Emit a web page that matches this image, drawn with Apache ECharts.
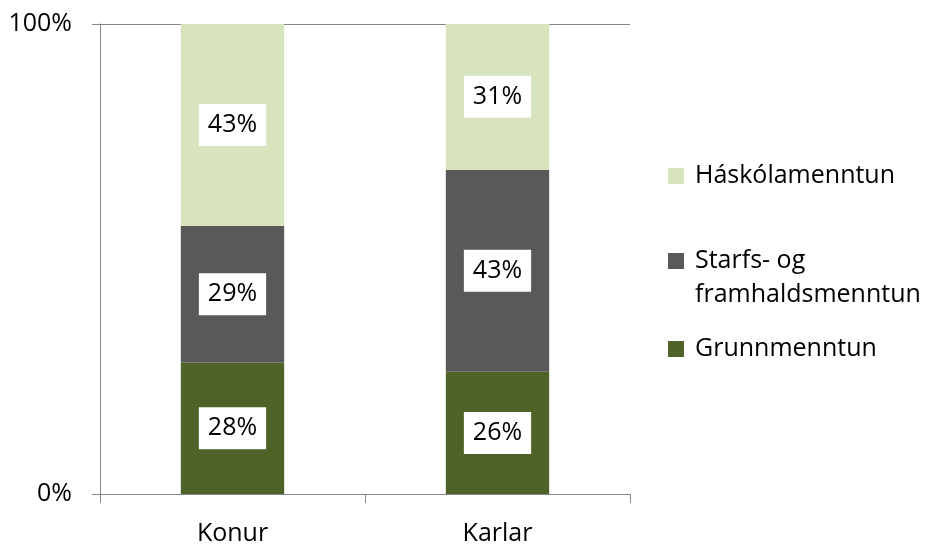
<!DOCTYPE html>
<html>
<head>
<meta charset="utf-8">
<script src="https://cdn.jsdelivr.net/npm/echarts@6/dist/echarts.min.js"></script>
<style>
  html, body { margin: 0; padding: 0; background: #fff; }
  #main { width: 925px; height: 548px; }
</style>
</head>
<body>
<div id="main"></div>
<script>
// categories and values (percent)
var categories = ['Konur', 'Karlar'];
var grunnmenntun = [28, 26];
var starfsmenntun = [29, 43];
var haskolamenntun = [43, 31];
var yTicks = [0, 100];

var FONT = '"Open Sans", sans-serif';
var axisGray = '#868686';

var myChart = echarts.init(document.getElementById('main'));

function labelStyle() {
    return {
        show: true,
        position: 'inside',
        formatter: '{c}%',
        color: '#000',
        fontFamily: FONT,
        fontSize: 25,
        lineHeight: 28,
        backgroundColor: '#fff',
        padding: [7, 9, 7, 9]
    };
}

function legendBox(name, top, formatter) {
    var l = {
        data: [name],
        orient: 'vertical',
        left: 668,
        top: top,
        padding: 0,
        itemWidth: 16,
        itemHeight: 16,
        icon: 'rect',
        selectedMode: false,
        textStyle: {
            fontFamily: FONT,
            fontSize: 25,
            color: '#000',
            lineHeight: 34,
            padding: [0, 0, 0, 6]
        }
    };
    if (formatter) l.formatter = formatter;
    return l;
}

var option = {
    animation: false,
    grid: {
        left: 100,
        right: 295,
        top: 24,
        bottom: 54
    },
    legend: [
        legendBox('Háskólamenntun', 159),
        // blank first line keeps the icon level with "Starfs- og"
        legendBox('Starfs- og framhaldsmenntun', 210, function () {
            return '\nStarfs- og\nframhaldsmenntun';
        }),
        legendBox('Grunnmenntun', 332)
    ],
    xAxis: {
        type: 'category',
        data: categories,
        axisLine: { lineStyle: { color: axisGray } },
        axisTick: { show: true, length: 9, lineStyle: { color: axisGray } },
        axisLabel: {
            color: '#000',
            fontFamily: FONT,
            fontSize: 25,
            margin: 27
        }
    },
    yAxis: {
        type: 'value',
        min: yTicks[0],
        max: yTicks[1],
        interval: yTicks[1] - yTicks[0],
        axisLine: { show: true, lineStyle: { color: axisGray } },
        axisTick: { show: true, length: 8, lineStyle: { color: axisGray } },
        splitLine: { show: true, lineStyle: { color: axisGray } },
        axisLabel: {
            color: '#000',
            fontFamily: FONT,
            fontSize: 25,
            margin: 28,
            formatter: '{value}%'
        }
    },
    series: [
        {
            name: 'Grunnmenntun',
            type: 'bar',
            stack: 'total',
            barWidth: '39%',
            data: grunnmenntun,
            itemStyle: { color: '#4f6228' },
            label: labelStyle()
        },
        {
            name: 'Starfs- og framhaldsmenntun',
            type: 'bar',
            stack: 'total',
            data: starfsmenntun,
            itemStyle: { color: '#595959' },
            label: labelStyle()
        },
        {
            name: 'Háskólamenntun',
            type: 'bar',
            stack: 'total',
            data: haskolamenntun,
            itemStyle: { color: '#d7e4bd' },
            label: labelStyle()
        }
    ]
};

myChart.setOption(option);
</script>
</body>
</html>
